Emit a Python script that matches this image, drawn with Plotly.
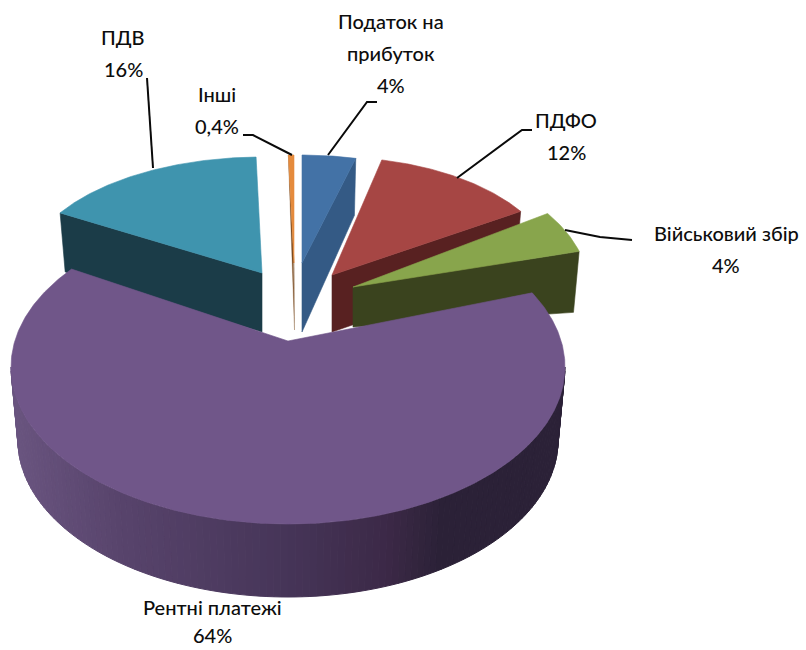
import math
import plotly.graph_objects as go

# --- data ---
categories = ["Податок на прибуток", "ПДФО", "Військовий збір", "Рентні платежі", "ПДВ", "Інші"]
shares = [4, 12, 4, 64, 16, 0.4]
share_text = ["4%", "12%", "4%", "64%", "16%", "0,4%"]

# --- styling / projection of each slice (apex on screen, ellipse radii, thickness) ---
top_colors = ["#4372a6", "#a64644", "#88a54c", "#705689", "#3f94ae", "#e58b3d"]
wall_colors = ["#345a85", "#582121", "#3a431e", None, "#1b3c48", "#7a4a20"]
apex_x = [302, 332, 353, 288, 262, 294]
apex_y = [263, 275, 287, 341, 273, 263]
centre_dy = [0, 0, 0, 26, 0, 0]
radius_x = [217, 224, 235, 277, 236, 225]
radius_y = [108, 118, 131, 157, 116, 108]
depth_apex = [69, 57, 40, 73, 59, 67]
depth_rim = [57, 57, 61, 73, 59, 62]
angle_pad_start = [0, -1.5, -1.5, -9.9, 0, 0]
angle_pad_end = [0, 0, 2.5, 7.4, 0, 0]
BOTTOM_SCALE = 0.975

fig = go.Figure()


def poly(xs, ys, color, line_w=0.6):
    fig.add_trace(go.Scatter(x=xs, y=ys, mode="lines", fill="toself", fillcolor=color,
                             line=dict(color=color, width=line_w), hoverinfo="skip", showlegend=False))


def rim(i, deg, scale=1.0, dy=0.0):
    t = math.radians(deg)
    return (apex_x[i] + scale * radius_x[i] * math.sin(t),
            apex_y[i] + centre_dy[i] + dy - radius_y[i] * math.cos(t))


def mix(stops, x):
    for (x0, c0), (x1, c1) in zip(stops, stops[1:]):
        if x <= x1:
            f = max(0.0, (x - x0) / (x1 - x0))
            return "rgb(%d,%d,%d)" % tuple(c0[k] + (c1[k] - c0[k]) * f for k in range(3))
    return "rgb(%d,%d,%d)" % stops[-1][1]


total = sum(shares)
starts, ends, acc = [], [], 0.0
for s in shares:
    starts.append(acc / total * 360)
    acc += s
    ends.append(acc / total * 360)
a0 = [s + p for s, p in zip(starts, angle_pad_start)]
a1 = [e + p for e, p in zip(ends, angle_pad_end)]


def radial_wall(i, deg):
    x1, y1 = rim(i, deg)
    x2, y2 = rim(i, deg, BOTTOM_SCALE, depth_rim[i])
    poly([apex_x[i], x1, x2, apex_x[i], apex_x[i]],
         [apex_y[i], y1, y2, apex_y[i] + depth_apex[i], apex_y[i]], wall_colors[i])


def top_face(i):
    n = max(4, int(a1[i] - a0[i]) * 2)
    pts = [rim(i, a0[i] + (a1[i] - a0[i]) * k / n) for k in range(n + 1)]
    poly([apex_x[i]] + [p[0] for p in pts] + [apex_x[i]],
         [apex_y[i]] + [p[1] for p in pts] + [apex_y[i]], top_colors[i])


# ПДВ
radial_wall(4, a0[4]); top_face(4)
# Інші: thin sliver, its wall fading out towards the bottom
i = 5
xo, yo = rim(i, a0[i])
ym = apex_y[i] + depth_apex[i]
poly([xo, apex_x[i], apex_x[i] + 0.5, xo], [yo, apex_y[i], ym, yo], wall_colors[i], 0.3)
poly([apex_x[i] - 0.6, apex_x[i] + 0.2, apex_x[i] + 0.5], [apex_y[i], apex_y[i], ym], "#c9b9a8", 0.2)
top_face(i)
# Податок
radial_wall(0, a1[0]); top_face(0)
# ПДФО
radial_wall(1, a1[1]); top_face(1)
# Військовий збір
radial_wall(2, a1[2]); top_face(2)

# Рентні платежі: curved outer wall with horizontal gradient
i = 3
wall_stops = [(10, (106, 85, 128)), (120, (88, 68, 108)), (290, (70, 53, 88)),
              (390, (60, 41, 71)), (440, (44, 34, 56)), (570, (43, 33, 55))]
step = 1.5
deg = 90.0
while deg < 270:
    d2 = min(deg + step, 270)
    p1, p2 = rim(i, deg), rim(i, d2)
    p3, p4 = rim(i, d2, BOTTOM_SCALE, depth_rim[i]), rim(i, deg, BOTTOM_SCALE, depth_rim[i])
    poly([p1[0], p2[0], p3[0], p4[0], p1[0]], [p1[1], p2[1], p3[1], p4[1], p1[1]],
         mix(wall_stops, (p1[0] + p2[0]) / 2), 1)
    deg = d2
top_face(i)

# --- labels, one annotation per text line ---
label_lines = [
    (["Податок на", "прибуток", share_text[0]], 391, 21),
    (["ПДФО", share_text[1]], 566, 120),
    (["Військовий збір", share_text[2]], 726, 233),
    (["Рентні платежі", share_text[3]], 212, 607),
    (["ПДВ", share_text[4]], 123, 37),
    (["Інші", share_text[5]], 217, 94),
]
LINE_PITCH = 32
for lines, lx, ly in label_lines:
    for k, txt in enumerate(lines):
        y_pos = min(ly + k * LINE_PITCH, 635)
        fig.add_annotation(x=lx, y=y_pos, text=txt, showarrow=False, xref="x", yref="y",
                           xanchor="center", yanchor="middle",
                           font=dict(family="Lato", size=20, color="#0d0d0d", weight=500))

# --- leader lines ---
leaders = [
    ([377, 367, 328], [102, 102, 155]),
    ([532, 522, 457], [130, 130, 178]),
    ([632, 600, 565], [240, 237, 230]),
    ([147, 153], [78, 168]),
    ([243, 253, 292], [135, 135, 155]),
]
for lx, ly in leaders:
    fig.add_trace(go.Scatter(x=lx, y=ly, mode="lines", line=dict(color="#0a0a0a", width=2),
                             hoverinfo="skip", showlegend=False))

fig.update_layout(
    width=806, height=650, margin=dict(l=0, r=0, t=0, b=0), autosize=False,
    paper_bgcolor="white", plot_bgcolor="white", showlegend=False,
    xaxis=dict(range=[0, 806], visible=False, fixedrange=True),
    yaxis=dict(range=[650, 0], visible=False, fixedrange=True),
)
fig.write_html("out.html", config={"displayModeBar": False},
               post_script="document.body.style.margin='0';document.documentElement.style.overflow='hidden';")
